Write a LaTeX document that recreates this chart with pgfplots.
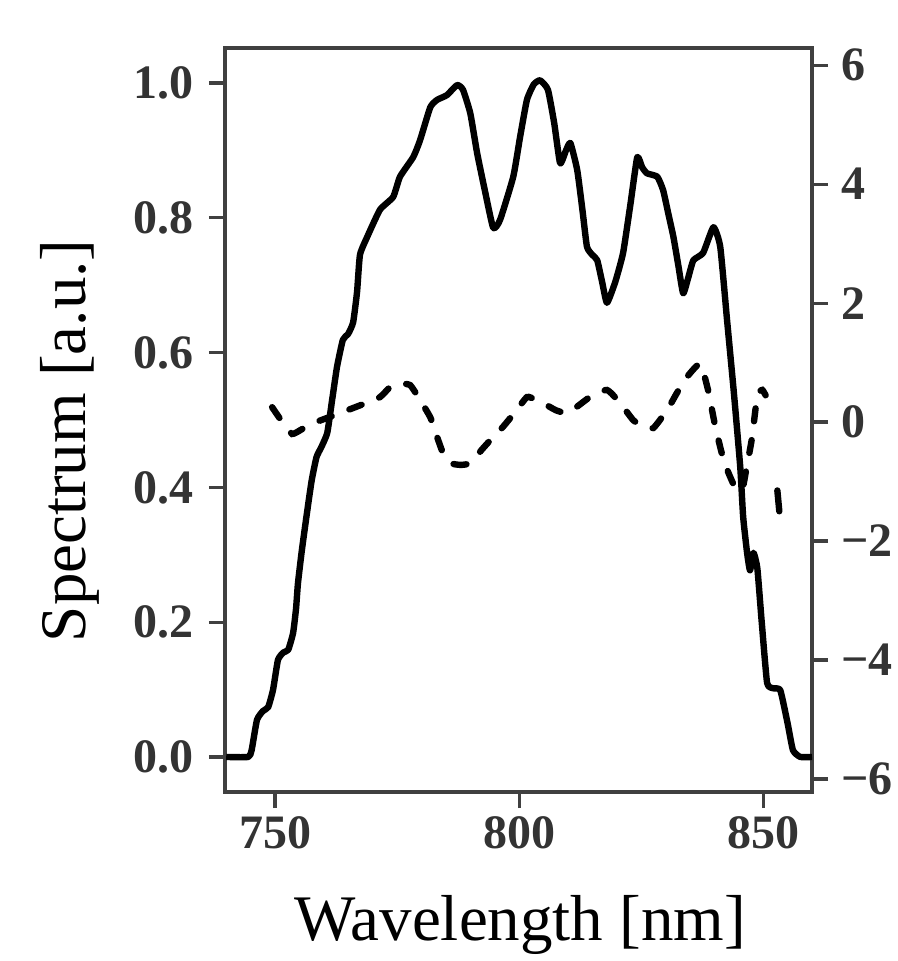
\documentclass[border=0pt]{standalone}
\usepackage{fontspec}
\setmainfont{Liberation Serif}
\usepackage{pgfplots}
\pgfplotsset{compat=1.18}

% solid: spectrum (left axis)
\pgfplotstableread{
x y
740 0
744.5 0
745.2 0.01
746.3 0.055
747.5 0.068
748.6 0.074
749.6 0.10
750.6 0.144
751.7 0.155
752.7 0.159
753.7 0.184
754.3 0.22
754.7 0.258
755.5 0.307
756.5 0.36
757.5 0.41
758.5 0.445
759.5 0.46
760.7 0.481
761.7 0.53
762.7 0.579
763.9 0.619
765.0 0.628
766.0 0.645
766.8 0.69
767.4 0.745
768.9 0.772
771.5 0.812
774.2 0.831
775.6 0.861
778.3 0.890
779.7 0.915
781.8 0.964
783.2 0.975
785.2 0.982
787.3 0.997
788.5 0.990
790.0 0.955
791.4 0.896
793.0 0.84
794.7 0.785
796.1 0.797
798.8 0.861
800.2 0.92
801.6 0.975
803.0 0.998
804.3 1.004
805.9 0.990
807.2 0.94
808.4 0.881
809.6 0.90
810.5 0.911
811.9 0.871
813.0 0.81
813.9 0.757
815.0 0.745
816.0 0.737
817.0 0.705
818.0 0.674
819.7 0.705
821.3 0.748
822.8 0.82
824.2 0.890
825.2 0.875
826.2 0.866
828.3 0.861
829.5 0.841
830.6 0.805
831.6 0.772
832.6 0.73
833.6 0.688
834.6 0.71
835.7 0.737
837.7 0.748
839.8 0.786
841.2 0.757
842.6 0.648
844.0 0.54
845.3 0.43
845.9 0.356
846.7 0.303
847.3 0.277
848.0 0.303
848.8 0.28
849.7 0.20
850.8 0.11
852.0 0.102
853.5 0.099
855.0 0.05
856.1 0.01
857.6 0
860 0
}\spec

% dashed: right axis
\pgfplotstableread{
x y
749.4 0.25
751.5 0.0
753.5 -0.2
755.5 -0.12
757.8 -0.02
761 0.08
763.9 0.17
768 0.3
771.5 0.42
773.6 0.59
775.6 0.65
777.7 0.62
779.5 0.4
781.8 0.08
783.2 -0.25
784.4 -0.52
785.9 -0.69
788 -0.72
790 -0.69
792.5 -0.45
794.7 -0.25
796.7 -0.08
799 0.15
801.6 0.42
803.2 0.38
804.9 0.32
807.5 0.2
809.8 0.15
812.2 0.28
814.5 0.42
818.0 0.54
820.7 0.32
823.4 0.03
825.5 -0.07
827.5 -0.10
830.3 0.20
832.4 0.5
834.4 0.76
837.1 0.98
838.7 0.54
840.2 -0.08
842.0 -0.67
844.3 -1.11
845.7 -1.14
846.5 -0.81
847.7 -0.27
848.8 0.45
849.8 0.54
850.5 0.45
}\phase

\begin{document}
\begin{tikzpicture}
\pgfplotsset{
  every axis/.append style={
    scale only axis, width=293.5pt, height=372pt,
    xmin=739.75, xmax=860,
    axis line style={line width=2pt, black!75},
    tick style={line width=1.6pt, black!75},
    major tick length=8pt,
    tick align=outside,
    tick label style={font=\fontsize{24}{26}\selectfont\bfseries, text=black!80},
  }
}
\begin{axis}[
  xtick={750,800,850}, xticklabels={750,800,850}, xtick pos=lower,
  xticklabel style={yshift=-1pt},
  ymin=-0.052, ymax=1.052,
  ytick={0,0.2,0.4,0.6,0.8,1}, yticklabels={0.0,0.2,0.4,0.6,0.8,1.0},
  ytick pos=left,
  yticklabel style={xshift=-4pt},
  xlabel={Wavelength [nm]}, ylabel={Spectrum [a.u.]},
  label style={font=\fontsize{32.5}{36}\selectfont},
  xlabel style={at={(axis description cs:0.503,-0.179)}, anchor=center},
  ylabel style={at={(axis description cs:-0.264,0.472)}, anchor=center},
]
\addplot[black, line width=3.2pt, line join=round, smooth, tension=0.3] table {\spec};
\path (rel axis cs:0,0) coordinate (bl) (rel axis cs:1,1) coordinate (tr);
\end{axis}
\begin{axis}[
  hide x axis,
  axis line style={draw=none},
  ymin=-6.22, ymax=6.29,
  ytick={-6,-4,-2,0,2,4,6}, yticklabels={−6,−4,−2,0,2,4,6},
  ytick pos=right,
  yticklabel style={xshift=3pt},
]
\addplot[black, line width=3.2pt, line cap=round, dash pattern=on 6.5pt off 9.5pt, smooth, tension=0.3] table {\phase};
\addplot[black, line width=3.2pt, line cap=round] coordinates {(852.9,-1.15)(853.3,-1.5)};
\end{axis}
\pgfresetboundingbox
\path ([shift={(-112.5pt,-84.5pt)}]bl) rectangle ([shift={(42.5pt,24pt)}]tr);
\end{tikzpicture}
\end{document}
